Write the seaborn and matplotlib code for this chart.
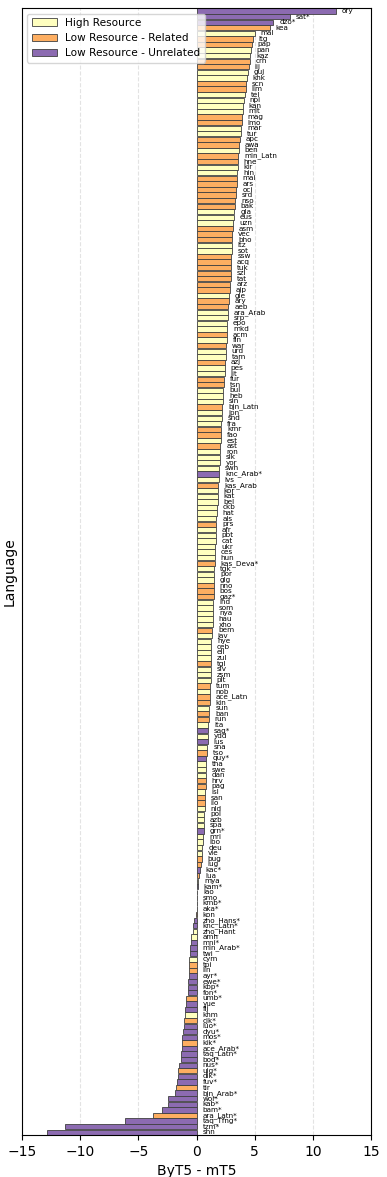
import pandas as pd
import matplotlib
matplotlib.use("Agg")
import matplotlib.pyplot as plt
import seaborn as sns

# languages, sorted by ByT5 - mT5 difference (top to bottom)
languages = [
    "ory", "sat*", "dzo*", "kea", "mal", "ltg", "pap", "pan", "kaz", "crh", "lij", "guj", "khk", "scn", "lim", "tel", "npi",
    "kan", "mlt", "mag", "lmo", "mar", "tur", "apc", "awa", "ben", "min_Latn", "hne", "kir", "hin", "mai", "ars", "oci", "srd",
    "nso", "bak", "gla", "eus", "uzn", "asm", "vec", "bho", "ltz", "sot", "ssw", "acq", "tuk", "szl", "tat", "arz", "ajp",
    "gle", "ary", "aeb", "ara_Arab", "srp", "epo", "mkd", "acm", "fin", "war", "urd", "tam", "azj", "pes", "lit", "fur", "tsn",
    "bul", "heb", "sin", "bjn_Latn", "jpn", "snd", "fra", "kmr", "fao", "est", "ast", "ron", "slk", "yor", "swh", "knc_Arab*", "lvs",
    "kas_Arab", "kor", "kat", "bel", "ckb", "hat", "als", "prs", "afr", "pbt", "cat", "ukr", "ces", "hun", "kas_Deva*", "tgk", "por",
    "glg", "nno", "bos", "gaz*", "ind", "som", "nya", "hau", "xho", "bem", "jav", "hye", "ceb", "ell", "zul", "tgl", "slv",
    "zsm", "plt", "tum", "nob", "ace_Latn", "kin", "sun", "ban", "run", "ita", "sag*", "ydd", "lus", "sna", "tso", "quy*", "tha",
    "swe", "dan", "hrv", "pag", "isl", "san", "ilo", "nld", "pol", "azb", "spa", "grn*", "mri", "ibo", "deu", "vie", "bug",
    "lug", "kac*", "lua", "mya", "kam*", "lao", "smo", "kmb*", "aka*", "kon", "zho_Hans*", "knc_Latn*", "zho_Hant", "amh", "mni*", "min_Arab*", "twi",
    "cym", "tpi", "lin", "ayr*", "ewe*", "kbp*", "fon*", "umb*", "yue", "fij", "khm", "cjk*", "luo*", "dyu*", "mos*", "kik*", "ace_Arab*",
    "taq_Latn*", "bod*", "nus*", "uig*", "dik*", "fuv*", "tir", "bjn_Arab*", "wol*", "kab*", "bam*", "ara_Latn*", "taq_Tfng*", "tzm*", "shn",
]

diffs = [
    12.0, 8.0, 6.6, 6.3, 5.0, 4.85, 4.75, 4.67, 4.6, 4.55, 4.47, 4.38, 4.32, 4.25, 4.22, 4.12, 4.07,
    3.97, 3.95, 3.9, 3.88, 3.83, 3.78, 3.72, 3.67, 3.62, 3.6, 3.55, 3.52, 3.5, 3.46, 3.44, 3.42, 3.4,
    3.32, 3.3, 3.25, 3.18, 3.15, 3.1, 3.08, 3.06, 3.03, 3.0, 2.99, 2.97, 2.95, 2.94, 2.93, 2.91, 2.89,
    2.8, 2.79, 2.74, 2.72, 2.68, 2.63, 2.62, 2.6, 2.58, 2.54, 2.52, 2.5, 2.46, 2.44, 2.4, 2.38, 2.34,
    2.31, 2.28, 2.25, 2.22, 2.2, 2.18, 2.14, 2.12, 2.1, 2.08, 2.05, 2.04, 2.02, 2.0, 1.95, 1.94, 1.9,
    1.87, 1.84, 1.82, 1.8, 1.75, 1.73, 1.71, 1.7, 1.67, 1.65, 1.64, 1.62, 1.6, 1.58, 1.55, 1.53, 1.52,
    1.51, 1.5, 1.49, 1.48, 1.45, 1.43, 1.42, 1.4, 1.37, 1.35, 1.3, 1.28, 1.26, 1.25, 1.24, 1.23, 1.22,
    1.21, 1.2, 1.16, 1.15, 1.14, 1.13, 1.1, 1.08, 1.06, 1.02, 1.0, 0.98, 0.96, 0.93, 0.88, 0.85, 0.82,
    0.8, 0.79, 0.78, 0.77, 0.73, 0.72, 0.69, 0.68, 0.67, 0.66, 0.65, 0.6, 0.58, 0.56, 0.5, 0.48, 0.44,
    0.4, 0.27, 0.22, 0.15, 0.1, 0.05, 0.03, 0.02, 0.01, -0.02, -0.25, -0.3, -0.35, -0.45, -0.5, -0.55, -0.6,
    -0.62, -0.64, -0.66, -0.68, -0.7, -0.75, -0.78, -0.88, -0.93, -1.0, -1.02, -1.08, -1.12, -1.2, -1.22, -1.25, -1.28,
    -1.3, -1.36, -1.5, -1.6, -1.62, -1.7, -1.8, -1.82, -2.43, -2.5, -2.95, -3.72, -6.16, -11.3, -12.86,
]

# H = high resource, R = low resource related, U = low resource unrelated
groups = (
    "UUURHRRHHRRHHRRHH"
    "HHRRHHRRHRRHHRRRR"
    "RRHHHRRRHHRRRRRRR"
    "HRRHHHHRHRHHRHHRR"
    "HHHRHHHRRHRHHHHUH"
    "RHHHHHHRHHHHHHRHH"
    "HRRRHHHHHRHHHHHRH"
    "HHRHRRHRRHUHUHRUH"
    "HHRRHRRHHHHUHHHHR"
    "RURHUHHUURUUHHUUU"
    "HRRUUUURUUHRUUURU"
    "UUURUURUUUURUUU"
)

group_names = {
    "H": "High Resource",
    "R": "Low Resource - Related",
    "U": "Low Resource - Unrelated",
}
hue_order = ["High Resource", "Low Resource - Related", "Low Resource - Unrelated"]
palette = {
    "High Resource": "#ffffbf",
    "Low Resource - Related": "#fdae61",
    "Low Resource - Unrelated": "#8c6bb1",
}

df = pd.DataFrame({
    "Language": languages,
    "diff": diffs,
    "group": [group_names[g] for g in groups],
})

fig, ax = plt.subplots(figsize=(3.87, 11.77), dpi=100)
sns.barplot(
    data=df, x="diff", y="Language", hue="group", hue_order=hue_order,
    order=languages, palette=palette, dodge=False, width=0.95, saturation=1,
    edgecolor="0.25", linewidth=0.6, orient="h", ax=ax,
)

# language code next to each bar
for i, (lang, v) in enumerate(zip(languages, diffs)):
    ax.text(max(v, 0) + 0.5, i, lang, va="center", ha="left", fontsize=5.2)

ax.set_xlim(-15, 15)
ax.set_yticks([])
ax.set_xlabel("ByT5 - mT5")
ax.set_ylabel("Language")
ax.grid(axis="x", linestyle="--", alpha=0.35)
ax.set_axisbelow(True)
ax.legend(loc="upper left", fontsize=7.6, title=None, handlelength=2.4,
          borderaxespad=0.5)

fig.subplots_adjust(left=0.057, right=0.959, top=0.993, bottom=0.0357)
fig.savefig("out.png", dpi=100)
